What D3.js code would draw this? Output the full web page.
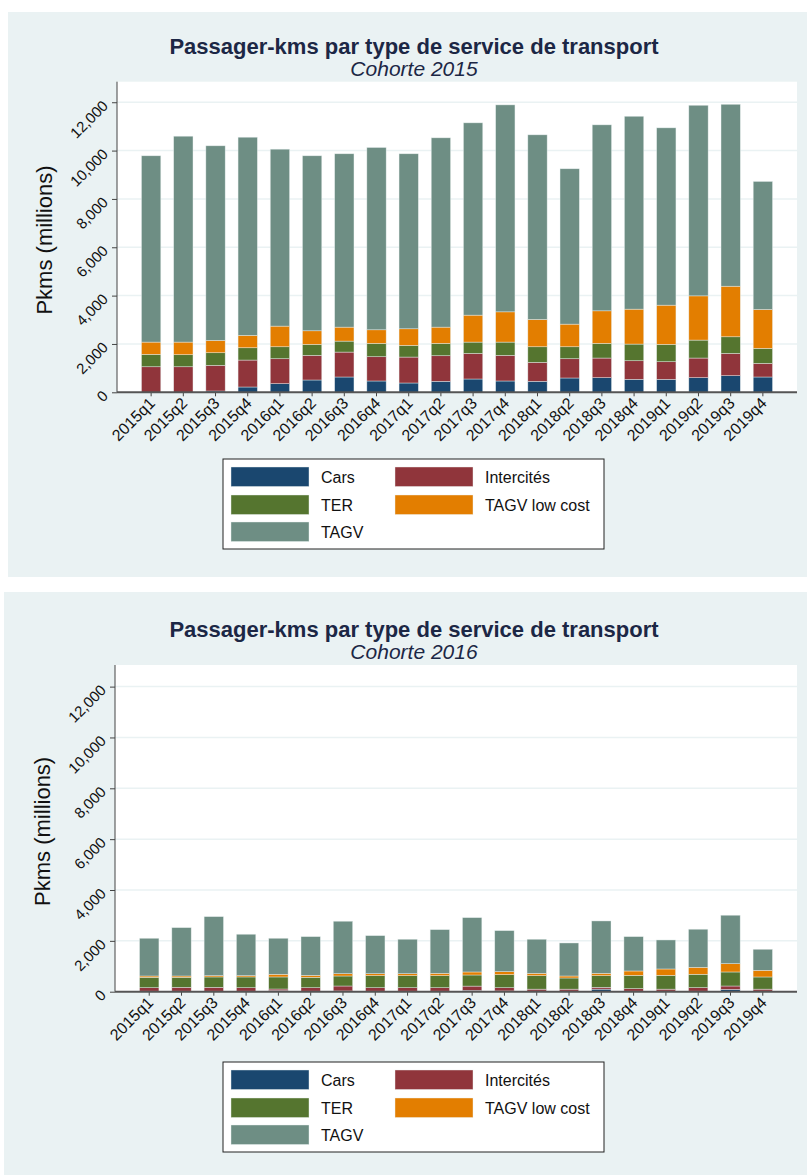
<!DOCTYPE html>
<html><head><meta charset="utf-8">
<script src="https://cdn.jsdelivr.net/npm/d3@7"></script>
<style>body{margin:0;background:#fff;} svg{display:block;} text{font-family:"Liberation Sans",Arial,sans-serif;}</style>
</head><body><svg id="c" width="807" height="1175"></svg>
<script>
const categories = ["2015q1","2015q2","2015q3","2015q4","2016q1","2016q2","2016q3","2016q4","2017q1","2017q2","2017q3","2017q4","2018q1","2018q2","2018q3","2018q4","2019q1","2019q2","2019q3","2019q4"];
const seriesNames = ["Cars","Intercités","TER","TAGV low cost","TAGV"];
const seriesColors = ["#1a476f","#90353b","#55752f","#e37e00","#6e8e84"];
const yTicks = [0,2000,4000,6000,8000,10000,12000];

// Cohorte 2015 (millions of passenger-km, segment values)
const cars2015     = [0,0,54,219,357,509,633,468,385,454,550,468,454,592,605,536,536,605,687,633];
const inter2015    = [1057,1057,1061,1115,1032,1018,1031,1004,1073,1059,1059,1059,784,797,812,770,729,812,922,563];
const ter2015      = [512,498,522,509,495,454,454,550,481,509,468,550,646,495,605,689,716,743,688,619];
const lowcost2015  = [508,522,510,510,854,564,578,564,689,674,1115,1252,1129,936,1349,1445,1624,1830,2092,1611];
const tagv2015     = [7708,8518,8051,8200,7320,7240,7172,7542,7240,7832,7956,8562,7639,6428,7694,7980,7336,7885,7527,5298];

// Cohorte 2016
const cars2016     = [20,20,20,20,40,20,30,20,20,20,50,30,20,20,100,20,20,20,90,20];
const inter2016    = [137,153,153,137,66,137,194,137,137,137,170,127,80,80,73,100,80,140,134,80];
const ter2016      = [410,394,407,423,474,410,394,474,474,474,437,513,531,439,458,523,543,525,552,479];
const lowcost2016  = [51,51,51,51,105,76,91,78,78,91,119,119,91,79,91,172,251,275,326,263];
const tagv2016     = [1484,1902,2322,1629,1417,1523,2063,1496,1354,1719,2137,1613,1341,1299,2061,1351,1141,1497,1906,827];

const svg = d3.select("#c");

function drawChart(cfg){
  const g = svg.append("g");
  g.append("rect").attr("x",cfg.panel[0]).attr("y",cfg.panel[1]).attr("width",cfg.panel[2]).attr("height",cfg.panel[3]).attr("fill","#eaf2f3");
  const L=cfg.plot[0], T=cfg.plot[1], R=cfg.plot[2], B=cfg.plot[3];
  g.append("rect").attr("x",L).attr("y",T).attr("width",R-L).attr("height",B-T).attr("fill","#fff");
  const cx = 414;
  g.append("text").attr("x",cx).attr("y",cfg.titleY).attr("text-anchor","middle").attr("font-size",22).attr("font-weight","bold").attr("fill","#1c2745").text("Passager-kms par type de service de transport");
  g.append("text").attr("x",cx).attr("y",cfg.titleY+22).attr("text-anchor","middle").attr("font-size",21).attr("font-style","italic").attr("fill","#1c2745").text(cfg.subtitle);

  const y = d3.scaleLinear().domain([0,12850]).range([B,T]);
  const x = d3.scaleBand().domain(categories).range([L,R]).paddingInner(0.4).paddingOuter(0.76);

  g.selectAll(".grid").data(yTicks.filter(d=>d>0)).enter().append("line")
    .attr("x1",L).attr("x2",R).attr("y1",d=>y(d)).attr("y2",d=>y(d)).attr("stroke","#eaf2f3").attr("stroke-width",1.5);

  const rows = categories.map((c,i)=>{const o={cat:c}; cfg.series.forEach((s,j)=>o[seriesNames[j]]=s[i]); return o;});
  const stack = d3.stack().keys(seriesNames)(rows);
  stack.forEach((layer,j)=>{
    g.append("g").selectAll("rect").data(layer).enter().append("rect")
      .attr("x",d=>x(d.data.cat)).attr("width",x.bandwidth())
      .attr("y",d=>y(d[1])).attr("height",d=>Math.max(0,y(d[0])-y(d[1])))
      .attr("fill",seriesColors[j]).attr("stroke","rgba(235,242,242,0.7)").attr("stroke-width",0.6);
  });

  const ya = g.append("g").attr("transform",`translate(${L},0)`).call(d3.axisLeft(y).tickValues(yTicks).tickFormat(d3.format(",")).tickSize(5).tickSizeOuter(0));
  ya.select(".domain").remove();
  g.append("line").attr("x1",L).attr("x2",L).attr("y1",T).attr("y2",B).attr("stroke","#444").attr("stroke-width",1);
  ya.selectAll(".tick line").attr("stroke","#444");
  ya.selectAll(".tick text").attr("font-size",15).attr("fill","#111").attr("text-anchor","end")
    .attr("x",null).attr("dy",null).attr("transform","translate(-8,4) rotate(-45)");

  const xa = g.append("g").attr("transform",`translate(0,${B})`).call(d3.axisBottom(x).tickSize(4).tickSizeOuter(0));
  xa.select(".domain").remove();
  g.append("line").attr("x1",L).attr("x2",R).attr("y1",B).attr("y2",B).attr("stroke","#555").attr("stroke-width",2);
  xa.selectAll(".tick line").attr("stroke","#444");
  xa.selectAll(".tick text").attr("font-size",16).attr("fill","#111").attr("text-anchor","end")
    .attr("y",null).attr("dy",null).attr("transform","translate(5,12) rotate(-45)");

  g.append("text").attr("transform",`translate(${cfg.yTitleX},${(T+B)/2+3}) rotate(-90)`).attr("text-anchor","middle").attr("font-size",22).attr("fill","#111").text("Pkms (millions)");

  const lg = g.append("g").attr("transform",`translate(223,${cfg.legendY})`);
  lg.append("rect").attr("width",381).attr("height",90).attr("fill","#fff").attr("stroke","#222").attr("stroke-width",1);
  const pos = [[8,8],[172,8],[8,36],[172,36],[8,63]];
  seriesNames.forEach((n,j)=>{
    lg.append("rect").attr("x",pos[j][0]).attr("y",pos[j][1]).attr("width",78).attr("height",19.5).attr("fill",seriesColors[j]).attr("stroke","rgba(235,242,242,0.7)").attr("stroke-width",0.6);
    lg.append("text").attr("x",pos[j][0]+90).attr("y",pos[j][1]+15.5).attr("font-size",16).attr("fill","#111").text(n);
  });
}

drawChart({panel:[8,12,799,565], plot:[117,81.7,797,392.3], titleY:54, subtitle:"Cohorte 2015", yTitleX:52, legendY:459,
  series:[cars2015,inter2015,ter2015,lowcost2015,tagv2015]});
drawChart({panel:[4,592,803,583], plot:[115,665,797,991.7], titleY:637, subtitle:"Cohorte 2016", yTitleX:50, legendY:1062,
  series:[cars2016,inter2016,ter2016,lowcost2016,tagv2016]});
</script></body></html>
